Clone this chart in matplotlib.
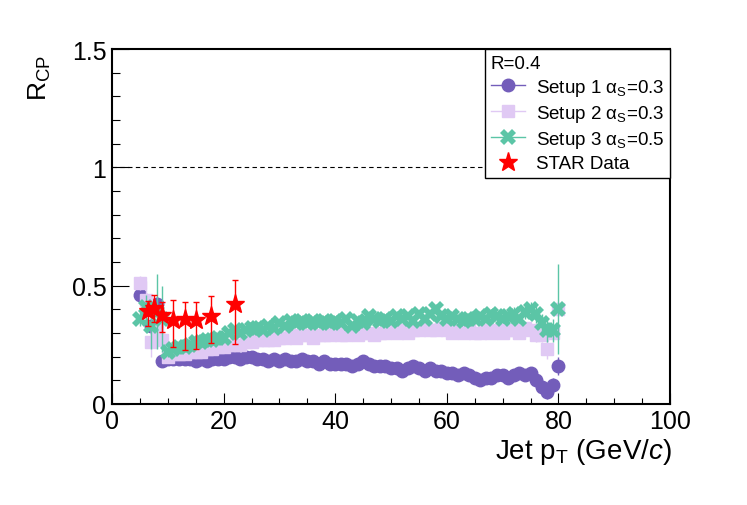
import numpy as np
import matplotlib
matplotlib.use('Agg')
import matplotlib.pyplot as plt
from matplotlib.lines import Line2D
from matplotlib.ticker import MultipleLocator

# jet pT bin centres (GeV/c)
jet_pt = np.arange(5, 81)

# Setup 1, alpha_s = 0.3
setup1 = [0.46, 0.43, 0.33, 0.42, 0.18, 0.19, 0.19, 0.19, 0.19, 0.19,
          0.18, 0.19, 0.18, 0.19, 0.19, 0.19, 0.20, 0.20, 0.19, 0.20,
          0.20, 0.19, 0.19, 0.18, 0.19, 0.18, 0.19, 0.18, 0.18, 0.19,
          0.18, 0.18, 0.17, 0.18, 0.17, 0.17, 0.17, 0.17, 0.16, 0.17,
          0.18, 0.17, 0.16, 0.16, 0.16, 0.15, 0.15, 0.14, 0.15, 0.16,
          0.15, 0.14, 0.15, 0.14, 0.14, 0.13, 0.13, 0.12, 0.13, 0.12,
          0.11, 0.10, 0.11, 0.11, 0.12, 0.12, 0.11, 0.12, 0.13, 0.12,
          0.13, 0.10, 0.07, 0.05, 0.08, 0.16]
setup1_err = [0.03, 0.03, 0.04, 0.03, 0.01, 0.01, 0.01, 0.01, 0.01, 0.01,
              0.01, 0.01, 0.01, 0.01, 0.01, 0.01, 0.01, 0.01, 0.01, 0.01,
              0.01, 0.01, 0.01, 0.01, 0.01, 0.01, 0.01, 0.01, 0.01, 0.01,
              0.01, 0.01, 0.01, 0.01, 0.01, 0.01, 0.01, 0.01, 0.01, 0.01,
              0.01, 0.01, 0.01, 0.01, 0.01, 0.01, 0.01, 0.01, 0.01, 0.01,
              0.01, 0.01, 0.01, 0.01, 0.01, 0.01, 0.01, 0.01, 0.01, 0.01,
              0.01, 0.01, 0.01, 0.01, 0.01, 0.01, 0.01, 0.02, 0.02, 0.02,
              0.02, 0.03, 0.03, 0.03, 0.03, 0.04]

# Setup 2, alpha_s = 0.3
setup2 = [0.51, 0.44, 0.26, 0.31, 0.27, 0.20, 0.21, 0.21, 0.21, 0.22,
          0.22, 0.22, 0.23, 0.23, 0.24, 0.24, 0.25, 0.25, 0.25, 0.26,
          0.26, 0.27, 0.27, 0.27, 0.27, 0.28, 0.28, 0.29, 0.28, 0.29,
          0.29, 0.28, 0.29, 0.29, 0.29, 0.30, 0.29, 0.29, 0.30, 0.29,
          0.30, 0.30, 0.29, 0.30, 0.30, 0.31, 0.30, 0.31, 0.30, 0.31,
          0.31, 0.32, 0.31, 0.31, 0.32, 0.31, 0.30, 0.31, 0.30, 0.31,
          0.30, 0.30, 0.31, 0.30, 0.31, 0.30, 0.31, 0.31, 0.30, 0.32,
          0.31, 0.29, 0.29, 0.23, 0.30, 0.40]
setup2_err = [0.03, 0.08, 0.06, 0.05, 0.04, 0.01, 0.01, 0.01, 0.01, 0.01,
              0.01, 0.01, 0.01, 0.01, 0.01, 0.01, 0.01, 0.01, 0.01, 0.01,
              0.01, 0.01, 0.01, 0.01, 0.01, 0.01, 0.01, 0.01, 0.01, 0.01,
              0.01, 0.01, 0.01, 0.01, 0.01, 0.01, 0.01, 0.01, 0.01, 0.01,
              0.01, 0.01, 0.01, 0.01, 0.01, 0.01, 0.01, 0.01, 0.01, 0.01,
              0.01, 0.01, 0.01, 0.01, 0.01, 0.01, 0.01, 0.01, 0.01, 0.01,
              0.01, 0.01, 0.01, 0.01, 0.01, 0.01, 0.02, 0.02, 0.02, 0.02,
              0.02, 0.03, 0.03, 0.04, 0.03, 0.03]

# Setup 3, alpha_s = 0.5
setup3 = [0.36, 0.41, 0.33, 0.39, 0.36, 0.22, 0.23, 0.24, 0.24, 0.25,
          0.26, 0.26, 0.27, 0.27, 0.28, 0.28, 0.30, 0.31, 0.30, 0.31,
          0.32, 0.32, 0.31, 0.33, 0.32, 0.34, 0.33, 0.35, 0.34, 0.35,
          0.34, 0.35, 0.34, 0.35, 0.34, 0.35, 0.34, 0.36, 0.33, 0.35,
          0.34, 0.37, 0.36, 0.35, 0.36, 0.35, 0.37, 0.36, 0.37, 0.35,
          0.38, 0.36, 0.38, 0.40, 0.37, 0.36, 0.37, 0.36, 0.35, 0.36,
          0.36, 0.37, 0.36, 0.38, 0.37, 0.36, 0.37, 0.38, 0.36, 0.39,
          0.40, 0.38, 0.34, 0.31, 0.31, 0.40]
setup3_err = [0.03, 0.05, 0.10, 0.16, 0.14, 0.02, 0.01, 0.01, 0.01, 0.01,
              0.01, 0.01, 0.01, 0.01, 0.01, 0.01, 0.01, 0.01, 0.01, 0.01,
              0.01, 0.01, 0.01, 0.01, 0.01, 0.01, 0.01, 0.01, 0.01, 0.01,
              0.01, 0.01, 0.01, 0.01, 0.01, 0.01, 0.01, 0.01, 0.01, 0.01,
              0.01, 0.01, 0.01, 0.01, 0.01, 0.01, 0.01, 0.01, 0.01, 0.01,
              0.01, 0.01, 0.01, 0.02, 0.01, 0.01, 0.01, 0.01, 0.01, 0.01,
              0.01, 0.01, 0.02, 0.02, 0.02, 0.02, 0.02, 0.03, 0.02, 0.03,
              0.03, 0.04, 0.04, 0.05, 0.05, 0.19]

# STAR data
star_pt = [6.4, 7.5, 8.9, 10.9, 13.0, 15.1, 17.7, 22.0]
star_val = [0.394, 0.404, 0.375, 0.356, 0.359, 0.356, 0.373, 0.422]
star_up = [0.039, 0.056, 0.055, 0.083, 0.073, 0.073, 0.081, 0.101]
star_down = [0.064, 0.057, 0.070, 0.117, 0.131, 0.124, 0.116, 0.169]

plt.rcParams['font.family'] = ['Liberation Sans', 'DejaVu Sans']
plt.rcParams['mathtext.fontset'] = 'custom'
plt.rcParams['mathtext.rm'] = 'Liberation Sans'
plt.rcParams['mathtext.it'] = 'Liberation Sans:italic'

c1 = '#735dba'
c2 = '#e0c9f4'
c3 = '#5bc5a6'

fig = plt.figure(figsize=(7.47, 5.06), dpi=100)
ax = fig.add_axes([0.150, 0.200, 0.747, 0.701])

ax.axhline(1.0, color='black', lw=0.8, ls=(0, (4, 3)), zorder=1)

ax.errorbar(jet_pt, setup1, yerr=setup1_err, fmt='o', color=c1, ms=9,
            elinewidth=1, capsize=0, zorder=3)
ax.errorbar(jet_pt, setup2, yerr=setup2_err, fmt='s', color=c2, ms=9,
            elinewidth=1, capsize=0, zorder=4)
ax.errorbar(jet_pt, setup3, yerr=setup3_err, fmt='X', color=c3, ms=11,
            mew=0, elinewidth=1, capsize=0, zorder=5)
ax.errorbar(star_pt, star_val, yerr=[star_down, star_up], fmt='*',
            color='red', ms=14, elinewidth=1, capsize=2.5, capthick=1,
            zorder=6)

ax.set_xlim(0, 100)
ax.set_ylim(0, 1.5)
ax.xaxis.set_major_locator(MultipleLocator(20))
ax.xaxis.set_minor_locator(MultipleLocator(5))
ax.yaxis.set_major_locator(MultipleLocator(0.5))
ax.yaxis.set_minor_locator(MultipleLocator(0.1))
ax.yaxis.set_major_formatter(plt.FuncFormatter(lambda v, p: '%g' % v))

ax.tick_params(axis='both', which='both', direction='in', width=0.8,
               labelsize=18, top=False, right=False)
ax.tick_params(axis='x', which='major', length=8, pad=4)
ax.tick_params(axis='x', which='minor', length=4)
ax.tick_params(axis='y', which='major', length=12, pad=4)
ax.tick_params(axis='y', which='minor', length=6)
for s in ax.spines.values():
    s.set_linewidth(1.5)

# axis titles, ROOT style: at the far ends of the axes
ax.text(1.003, -0.09, 'Jet p$_{\\rm T}$ (GeV/$c$)', fontsize=20,
        ha='right', va='top', transform=ax.transAxes)
ax.text(-0.129, 0.985, 'R$_{\\rm CP}$', fontsize=19, rotation=90,
        ha='center', va='top', transform=ax.transAxes)

handles = [
    Line2D([], [], color=c1, marker='o', ms=9, lw=1),
    Line2D([], [], color=c2, marker='s', ms=9, lw=1),
    Line2D([], [], color=c3, marker='X', ms=11, mew=0, lw=1),
    Line2D([], [], color='red', marker='*', ms=14, lw=0),
]
labels = ['Setup 1 α$_{\\rm S}$=0.3', 'Setup 2 α$_{\\rm S}$=0.3',
          'Setup 3 α$_{\\rm S}$=0.5', 'STAR Data']
leg = ax.legend(handles, labels, loc='upper right', bbox_to_anchor=(1.0, 1.0),
                borderaxespad=0, fontsize=13.5, title='R=0.4',
                title_fontsize=13.5, alignment='left', fancybox=False,
                edgecolor='black', framealpha=1, handlelength=1.8,
                handletextpad=0.6, labelspacing=0.27, borderpad=0.3)
leg.get_frame().set_linewidth(1.0)

fig.savefig('out.png', dpi=100)
